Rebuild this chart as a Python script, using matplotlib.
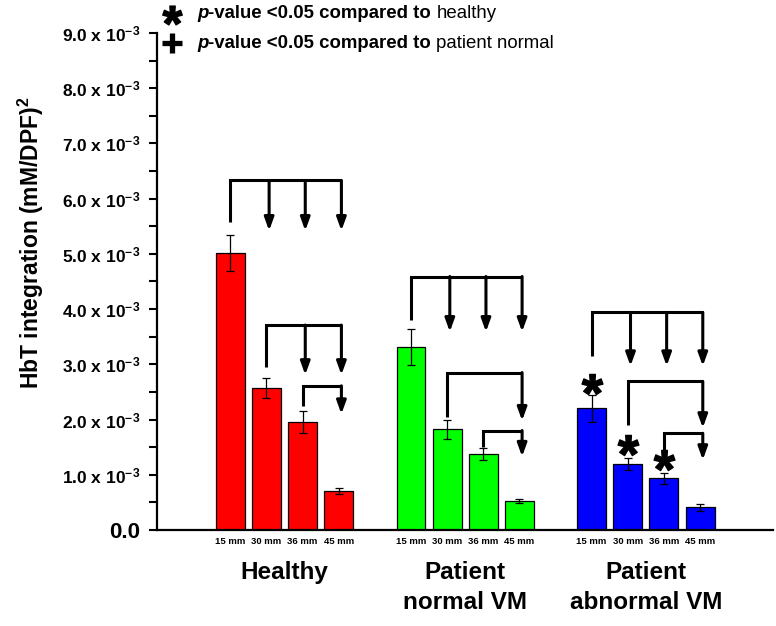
import numpy as np
import matplotlib
matplotlib.use("Agg")
import matplotlib.pyplot as plt
from matplotlib.ticker import MultipleLocator, FixedLocator

plt.rcParams['font.family'] = ['Liberation Sans', 'DejaVu Sans']
plt.rcParams['mathtext.fontset'] = 'custom'
plt.rcParams['mathtext.rm'] = 'Liberation Sans:bold'
plt.rcParams['mathtext.it'] = 'Liberation Sans:bold:italic'
plt.rcParams['mathtext.bf'] = 'Liberation Sans:bold'

# values in units of 1e-3 (mM/DPF)^2
groups = ["Healthy", "Patient\nnormal VM", "Patient\nabnormal VM"]
distances = ["15 mm", "30 mm", "36 mm", "45 mm"]
healthy = [5.02, 2.57, 1.96, 0.71]
healthy_err = [0.33, 0.18, 0.20, 0.05]
normal_vm = [3.31, 1.82, 1.37, 0.52]
normal_vm_err = [0.33, 0.17, 0.11, 0.04]
abnormal_vm = [2.20, 1.19, 0.94, 0.41]
abnormal_vm_err = [0.24, 0.11, 0.10, 0.06]
colors = ["#ff0000", "#00ff00", "#0000ff"]

# significance brackets: (from bar, to bars, bracket top, leg bottom, arrow tip)
brackets = [
    [(0, [1, 2, 3], 6.33, 5.57, 5.42), (1, [2, 3], 3.71, 2.95, 2.81), (2, [3], 2.61, 2.25, 2.10)],
    [(0, [1, 2, 3], 4.59, 3.80, 3.59), (1, [3], 2.85, 2.05, 1.98), (2, [3], 1.80, 1.51, 1.33)],
    [(0, [1, 2, 3], 3.94, 3.15, 2.97), (1, [3], 2.69, 1.90, 1.85), (2, [3], 1.75, 1.30, 1.27)],
]
# asterisks (vs healthy) on abnormal VM group
star_bars = [0, 1, 2]
star_y = [2.64, 1.54, 1.27]

values = [healthy, normal_vm, abnormal_vm]
errors = [healthy_err, normal_vm_err, abnormal_vm_err]

step = 0.2
width = 0.16
offsets = (np.arange(4) - 1.5) * step

fig = plt.figure(figsize=(7.76, 6.26), dpi=100)
ax = fig.add_axes([0.2023, 0.1534, 0.7937, 0.7939])

xticks = []
xlabels = []
for g in range(3):
    xs = g + offsets
    ax.bar(xs, values[g], width, color=colors[g], edgecolor='black', linewidth=0.9, zorder=2)
    ax.errorbar(xs, values[g], yerr=errors[g], fmt='none', ecolor='black',
                elinewidth=0.9, capsize=2.6, capthick=0.9, zorder=3)
    xticks.extend(xs)
    xlabels.extend(distances)
    for frm, tos, top, leg, tip in brackets[g]:
        x0 = xs[frm]
        x1 = xs[tos[-1]] + 0.015
        ax.plot([x0, x0, x1], [leg, top, top], color='black', lw=2.2,
                solid_joinstyle='miter', solid_capstyle='butt', zorder=4)
        for t in tos:
            xt = xs[t] + 0.015
            ax.annotate("", xy=(xt, tip), xytext=(xt, top), zorder=4,
                        arrowprops=dict(arrowstyle="-|>,head_length=0.55,head_width=0.2",
                                        color='black', lw=2.2, shrinkA=0, shrinkB=0,
                                        mutation_scale=14))
    ax.text(g, -0.063, groups[g], transform=ax.get_xaxis_transform(),
            ha='center', va='top', fontsize=17.5, fontweight='bold', linespacing=1.38)

ax.plot(2 + offsets[star_bars], star_y, linestyle='none', marker=r'$*$',
        ms=15, color='black', zorder=5)

ax.set_xlim(-0.7056, 2.703)
ax.set_ylim(0, 9.0)
ax.spines['top'].set_visible(False)
ax.spines['right'].set_visible(False)
ax.spines['left'].set_linewidth(1.6)
ax.spines['bottom'].set_linewidth(1.6)

ax.set_xticks(xticks)
ax.set_xticklabels(xlabels, fontsize=6.8, fontweight='bold')
ax.tick_params(axis='x', length=0, pad=5)

yt = np.arange(0, 9.5, 1.0)
ax.yaxis.set_major_locator(FixedLocator(yt))
ax.yaxis.set_minor_locator(MultipleLocator(0.5))
ylabels = ["0.0"] + [r"%.1f x 10$^{-3}$" % v for v in yt[1:]]
ax.set_yticklabels(ylabels)
for i, lab in enumerate(ax.get_yticklabels()):
    lab.set_fontweight('bold')
    lab.set_fontsize(16 if i == 0 else 12.5)
ax.tick_params(axis='y', which='major', direction='out', length=6, width=1.5, pad=6)
ax.tick_params(axis='y', which='minor', direction='out', length=6, width=1.5)

ax.set_ylabel(r"HbT integration (mM/DPF)$^2$", fontsize=16.5, fontweight='bold')
ax.yaxis.set_label_coords(-0.181, 0.577)

# legend at top
fig.canvas.draw()
renderer = fig.canvas.get_renderer()


def text_run(x, y, pieces):
    for s, style, weight in pieces:
        t = fig.text(x, y, s, fontsize=13.4, style=style, fontweight=weight,
                     va='center', ha='left')
        bb = t.get_window_extent(renderer)
        x = x + bb.width / fig.bbox.width


fig.lines.append(plt.Line2D([172 / 776], [1 - 15 / 626], transform=fig.transFigure,
                            marker=r'$*$', ms=14, color='black', linestyle='none'))
fig.lines.append(plt.Line2D([172 / 776], [1 - 43 / 626], transform=fig.transFigure,
                            marker='+', ms=15, mew=3.8, color='black', linestyle='none'))
text_run(197 / 776, 1 - 14 / 626, [("p", 'italic', 'bold'), ("-value <0.05 compared to ", 'normal', 'bold'),
                                   ("healthy", 'normal', 'normal')])
text_run(197 / 776, 1 - 43 / 626, [("p", 'italic', 'bold'), ("-value <0.05 compared to ", 'normal', 'bold'),
                                   ("patient normal", 'normal', 'normal')])

fig.savefig("out.png", dpi=100)
